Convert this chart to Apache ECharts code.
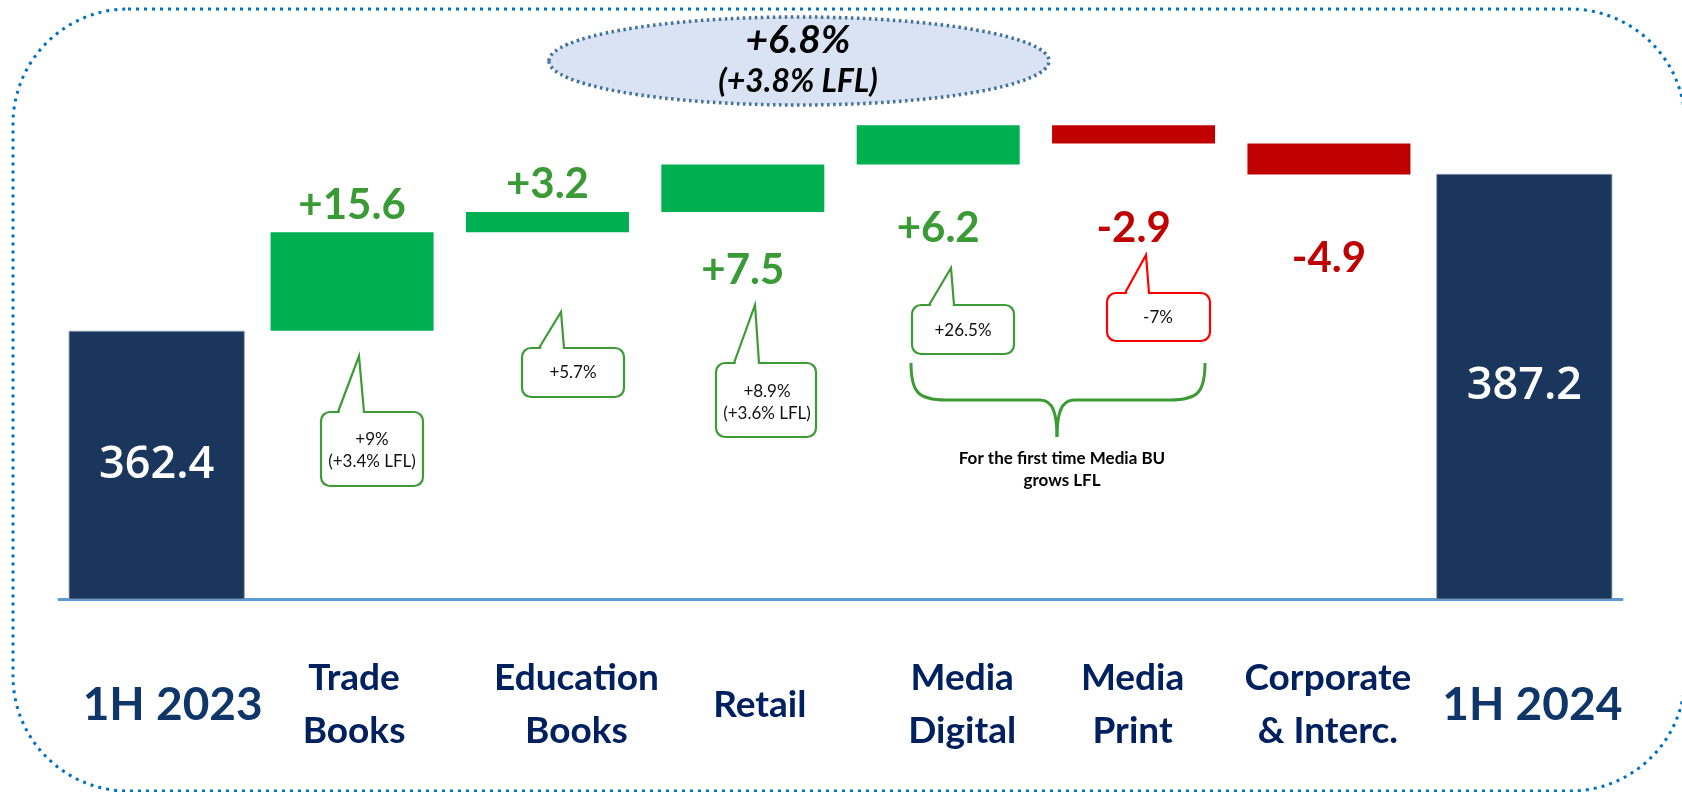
<!DOCTYPE html>
<html>
<head>
<meta charset="utf-8">
<script src="https://cdn.jsdelivr.net/npm/echarts@6/dist/echarts.min.js"></script>
<style>
html, body { margin: 0; padding: 0; background: #fff; }
#main { width: 1682px; height: 792px; }
</style>
</head>
<body>
<div id="main"></div>
<script>
// chart data
var categories = ['1H 2023', 'Trade\nBooks', 'Education\nBooks', 'Retail', 'Media\nDigital', 'Media\nPrint', 'Corporate\n& Interc.', '1H 2024'];
var startValue = 362.4;
var endValue = 387.2;
var changes = [15.6, 3.2, 7.5, 6.2, -2.9, -4.9];
var growthNotes = ['+9%\n(+3.4% LFL)', '+5.7%', '+8.9%\n(+3.6% LFL)', '+26.5%', '-7%'];
var headline = '+6.8%';
var headlineLfl = '(+3.8% LFL)';
var braceNote = 'For the first time Media BU\ngrows LFL';

var NAVY = '#1b365d', GREEN = '#00b050', RED = '#c00000';
var LBL_GREEN = '#3a9a35', LBL_RED = '#c00000';

// label placement for the change bars (position, distance)
var changeLabelPlace = [['top', 6], ['top', 6], ['bottom', 38], ['bottom', 43], ['bottom', 64], ['bottom', 63]];
// small horizontal nudges of the category labels
var labelShift = [16, 2, 29, 17, 24, -1, -1, 8];

var totals = [], bases = [], deltas = [];
var running = startValue;
categories.forEach(function (c, i) {
    if (i === 0 || i === categories.length - 1) {
        totals.push(i === 0 ? startValue : endValue);
        bases.push('-');
        deltas.push('-');
        return;
    }
    var d = changes[i - 1];
    var place = changeLabelPlace[i - 1];
    totals.push('-');
    bases.push(+(d >= 0 ? running : running + d).toFixed(1));
    deltas.push({
        value: Math.abs(d),
        itemStyle: {color: d >= 0 ? GREEN : RED},
        label: {position: place[0], distance: place[1], color: d >= 0 ? LBL_GREEN : LBL_RED}
    });
    running = +(running + d).toFixed(1);
});

var rich = {};
labelShift.forEach(function (dx, i) {
    var big = (i === 0 || i === categories.length - 1);
    rich['k' + i] = {
        fontFamily: 'Lato',
        fontWeight: 'bold',
        fontSize: big ? 46 : 37,
        lineHeight: 53,
        color: big ? '#0f3669' : '#002060',
        padding: dx >= 0 ? [0, 0, 0, dx * 2] : [0, -dx * 2, 0, 0]
    };
});

// callout bubbles: rect, tail base x range, tail tip, text centre
var callouts = [
    {rect: [321, 412, 102, 74], base: [338, 364], tip: [359, 356], text: [372, 451], color: '#3d9b35'},
    {rect: [522, 348, 102, 49], base: [539, 564], tip: [561, 312], text: [573, 373], color: '#3d9b35'},
    {rect: [716, 363, 100, 74], base: [734, 759], tip: [755, 305], text: [767, 403], color: '#3d9b35'},
    {rect: [912, 305, 102, 49], base: [929, 954], tip: [951, 268], text: [963, 331], color: '#3d9b35'},
    {rect: [1107, 293, 103, 48], base: [1125, 1149], tip: [1146, 255], text: [1158, 318], color: '#ff0000'}
];

var graphics = [
    {
        type: 'rect', z: 0, silent: true,
        shape: {x: 13, y: 9, width: 1672, height: 782, r: 115},
        style: {fill: 'none', stroke: '#0070c0', lineWidth: 3, lineDash: [3, 5]}
    },
    {
        type: 'ellipse', z: 10,
        shape: {cx: 799, cy: 61, rx: 250, ry: 44},
        style: {fill: '#dae3f3', stroke: '#41719c', lineWidth: 3.5, lineDash: [2.5, 3.5]}
    },
    {
        type: 'text', z: 11,
        style: {text: headline, x: 798, y: 40, align: 'center', verticalAlign: 'middle',
            textAlign: 'center', textVerticalAlign: 'middle',
            font: 'italic bold 39px Lato', fill: '#000'}
    },
    {
        type: 'text', z: 11,
        style: {text: headlineLfl, x: 798, y: 82, align: 'center', verticalAlign: 'middle',
            textAlign: 'center', textVerticalAlign: 'middle',
            font: 'italic bold 32px Lato', fill: '#000'}
    }
];

callouts.forEach(function (c, i) {
    var r = c.rect;
    var top = r[1];
    graphics.push({
        type: 'rect', z: 20,
        shape: {x: r[0], y: r[1], width: r[2], height: r[3], r: 9},
        style: {fill: '#fff', stroke: c.color, lineWidth: 2.2}
    });
    graphics.push({
        type: 'polygon', z: 21,
        shape: {points: [[c.base[0] + 1, top + 2], c.tip, [c.base[1] - 1, top + 2]]},
        style: {fill: '#fff'}
    });
    graphics.push({
        type: 'polyline', z: 22,
        shape: {points: [[c.base[0], top], c.tip, [c.base[1], top]]},
        style: {fill: 'none', stroke: c.color, lineWidth: 2.2}
    });
    graphics.push({
        type: 'text', z: 23,
        style: {text: growthNotes[i], x: c.text[0], y: c.text[1], align: 'center', verticalAlign: 'middle',
            textAlign: 'center', textVerticalAlign: 'middle', lineHeight: 22,
            font: '17px Lato', fill: '#111'}
    });
});

// curly brace under the media callouts
var braceStyle = {fill: 'none', stroke: '#3d9b35', lineWidth: 3};
graphics.push(
    {type: 'bezierCurve', z: 20, shape: {x1: 911, y1: 363, cpx1: 911, cpy1: 392, cpx2: 918, cpy2: 400, x2: 946, y2: 400}, style: braceStyle},
    {type: 'line', z: 20, shape: {x1: 946, y1: 400, x2: 1040, y2: 400}, style: braceStyle},
    {type: 'bezierCurve', z: 20, shape: {x1: 1040, y1: 400, cpx1: 1053, cpy1: 400, cpx2: 1057, cpy2: 414, x2: 1057, y2: 437}, style: braceStyle},
    {type: 'bezierCurve', z: 20, shape: {x1: 1057, y1: 437, cpx1: 1057, cpy1: 414, cpx2: 1061, cpy2: 400, x2: 1074, y2: 400}, style: braceStyle},
    {type: 'line', z: 20, shape: {x1: 1074, y1: 400, x2: 1170, y2: 400}, style: braceStyle},
    {type: 'bezierCurve', z: 20, shape: {x1: 1170, y1: 400, cpx1: 1198, cpy1: 400, cpx2: 1205, cpy2: 392, x2: 1205, y2: 363}, style: braceStyle},
    {
        type: 'text', z: 20,
        style: {text: braceNote, x: 1062, y: 470, align: 'center', verticalAlign: 'middle',
            textAlign: 'center', textVerticalAlign: 'middle', lineHeight: 22,
            font: 'bold 17px Lato', fill: '#000'}
    }
);

var myChart = echarts.init(document.getElementById('main'));
var option = {
    animation: false,
    grid: {left: 59, right: 60, top: 93, bottom: 193},
    xAxis: [
        {
            type: 'category',
            data: categories,
            axisLine: {lineStyle: {color: '#5b9bd5', width: 3}},
            axisTick: {show: false},
            axisLabel: {
                interval: 0,
                margin: 106,
                verticalAlign: 'middle',
                formatter: function (v, i) {
                    return v.split('\n').map(function (s) {
                        return '{k' + i + '|' + s + '}';
                    }).join('\n');
                },
                rich: rich
            }
        },
        {
            type: 'category',
            data: categories,
            show: false
        }
    ],
    yAxis: {
        type: 'value',
        min: 320,
        max: 400,
        show: false,
        splitLine: {show: false}
    },
    series: [
        {
            name: 'total',
            type: 'bar',
            xAxisIndex: 0,
            barWidth: 176,
            data: totals,
            z: 3,
            itemStyle: {color: NAVY, borderColor: '#8a9bb3', borderWidth: 0.8},
            label: {
                show: true,
                position: 'inside',
                color: '#fff',
                fontFamily: 'Open Sans',
                fontWeight: 600,
                fontSize: 45,
                formatter: function (p) { return p.value.toFixed(1); }
            }
        },
        {
            name: 'base',
            type: 'bar',
            xAxisIndex: 1,
            stack: 'wf',
            barWidth: 163,
            itemStyle: {color: 'transparent'},
            data: bases
        },
        {
            name: 'change',
            type: 'bar',
            xAxisIndex: 1,
            stack: 'wf',
            barWidth: 163,
            data: deltas,
            label: {
                show: true,
                fontFamily: 'Lato',
                fontWeight: 'bold',
                fontSize: 42,
                formatter: function (p) {
                    var d = changes[p.dataIndex - 1];
                    return (d > 0 ? '+' : '-') + Math.abs(d).toFixed(1);
                }
            }
        }
    ],
    graphic: graphics
};
myChart.setOption(option);
</script>
</body>
</html>
